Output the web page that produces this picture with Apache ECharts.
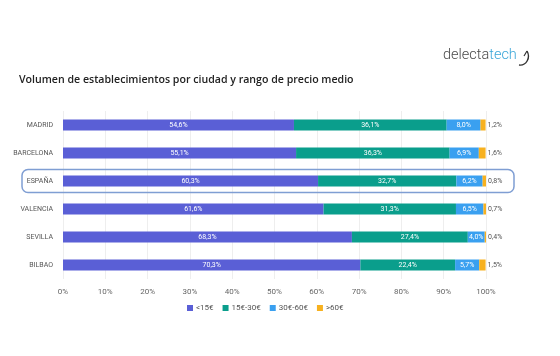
<!DOCTYPE html>
<html><head><meta charset="utf-8">
<script src="https://cdn.jsdelivr.net/npm/echarts@6/dist/echarts.min.js"></script>
<style>html,body{margin:0;padding:0;background:#fff}#c{width:560px;height:356px}</style>
</head><body><div id="c"></div>
<script>
var categories = ['MADRID','BARCELONA','ESPAÑA','VALENCIA','SEVILLA','BILBAO'];
var seriesNames = ['<15€','15€-30€','30€-60€','>60€'];
var lt15 = [54.6, 55.1, 60.3, 61.6, 68.3, 70.3];
var r15_30 = [36.1, 36.3, 32.7, 31.3, 27.4, 22.4];
var r30_60 = [8.0, 6.9, 6.2, 6.5, 4.0, 5.7];
var gt60 = [1.2, 1.6, 0.8, 0.7, 0.4, 1.5];
var xTicks = [0,10,20,30,40,50,60,70,80,90,100];
var highlightCategory = 'ESPAÑA';

var colors = ['#5a5fd6','#0a9e8c','#3aa0f0','#f7b11f'];
var fmt = function(p){ return p.value.toFixed(1).replace('.', ',') + '%'; };
var fontFam = 'Roboto, "Noto Sans", sans-serif';

function mk(name, data, color, outside){
  return {
    name: name, type: 'bar', stack: 'total', data: data.slice().reverse(),
    barWidth: 11,
    itemStyle: {color: color},
    label: outside ? {show: true, position: 'right', color: '#555', fontSize: 7, fontFamily: fontFam, formatter: fmt, distance: 2}
                   : {show: true, position: 'inside', color: '#fff', fontSize: 7, fontFamily: fontFam, formatter: fmt},
    emphasis: {disabled: true}
  };
}

var chart = echarts.init(document.getElementById('c'), null, {renderer: 'canvas'});
var option = {
  animation: false,
  backgroundColor: '#fff',
  title: {
    text: 'Volumen de establecimientos por ciudad y rango de precio medio',
    left: 14, top: 69,
    textStyle: {fontSize: 10.6, fontWeight: 600, color: '#222', fontFamily: '"Open Sans", sans-serif'}
  },
  legend: {
    data: seriesNames, bottom: 39, left: 182,
    itemWidth: 6, itemHeight: 6, itemGap: 9,
    icon: 'rect',
    textStyle: {fontSize: 8, color: '#555', fontFamily: fontFam, padding: [0,0,0,-2]}
  },
  grid: {left: 63, right: 74, top: 111, bottom: 77, containLabel: false},
  xAxis: {
    type: 'value', min: 0, max: 100, interval: 10,
    axisLabel: {formatter: '{value}%', fontSize: 8, color: '#666', fontFamily: fontFam, margin: 9},
    splitLine: {show: true, lineStyle: {color: '#eeeeee', width: 1}},
    axisLine: {show: false}, axisTick: {show: false}
  },
  yAxis: {
    type: 'category', data: categories.slice().reverse(),
    axisLabel: {fontSize: 7, color: '#555', fontFamily: fontFam, margin: 10},
    axisLine: {show: false}, axisTick: {show: false}
  },
  series: [
    mk(seriesNames[0], lt15, colors[0], false),
    mk(seriesNames[1], r15_30, colors[1], false),
    mk(seriesNames[2], r30_60, colors[2], false),
    mk(seriesNames[3], gt60, colors[3], true)
  ]
};
chart.setOption(option);

var yc = chart.convertToPixel({yAxisIndex: 0}, highlightCategory);
chart.setOption({
  graphic: [
    {type: 'rect', shape: {x: 22, y: yc - 11.5, width: 492, height: 23, r: 6},
     style: {fill: 'none', stroke: '#7f9ed3', lineWidth: 1.5}, z: 100},
    {type: 'text', x: 443, y: 48,
     style: {text: '{a|delecta}{b|tech}', rich: {a: {fill: '#4a4a4a', fontSize: 14.5, fontFamily: 'Roboto, sans-serif', fontWeight: 300}, b: {fill: '#3aa6d8', fontSize: 14.5, fontFamily: 'Roboto, sans-serif', fontWeight: 300}}}, z: 100},
    {type: 'bezierCurve', shape: {x1: 519, y1: 65, x2: 527, y2: 51, cpx1: 526, cpy1: 66, cpx2: 531, cpy2: 58},
     style: {stroke: '#333', lineWidth: 1.4, fill: 'none'}, z: 100},
    {type: 'line', shape: {x1: 527, y1: 51, x2: 524, y2: 56},
     style: {stroke: '#333', lineWidth: 1.2}, z: 100}
  ]
});
</script>
</body></html>
